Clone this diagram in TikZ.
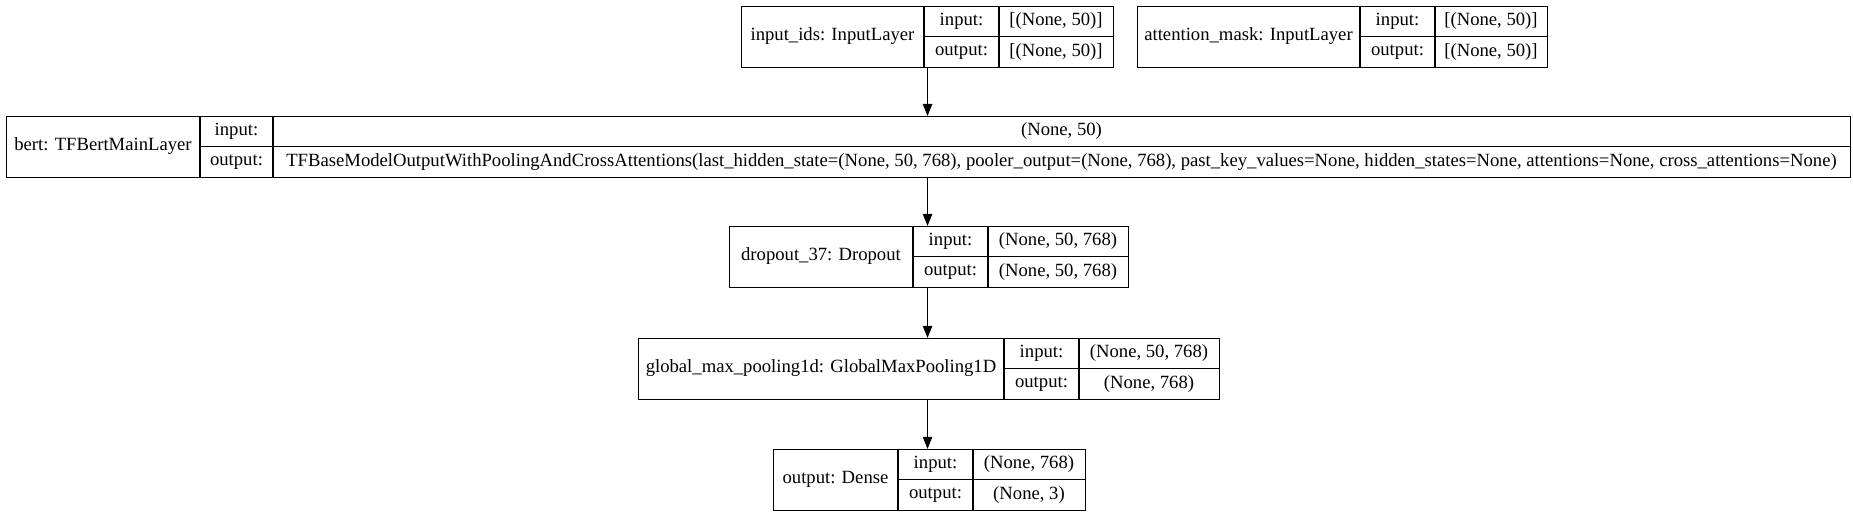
\documentclass[tikz,border=0pt]{standalone}
\usepackage{fontspec}
\setmainfont{Liberation Serif}
\usetikzlibrary{arrows.meta}
\tikzset{
  boxst/.style={draw=black, line width=0.8pt, inner sep=0pt},
  sepst/.style={draw=black, line width=0.8pt},
  txt/.style={inner sep=0pt, font=\fontsize{14}{16}\selectfont},
  edgest/.style={draw=black, line width=0.8pt, -{Triangle[length=9pt,width=7pt]}}
}
% #1 name, #2 left, #3 sep1, #4 sep2, #5 right, #6 top, #7 label, #8 input, #9 output
\newcommand{\layerbox}[9]{%
  \pgfmathsetmacro{\lwid}{(#5-#2)*0.75}%
  \node[boxst, minimum width=\lwid pt, minimum height=45.75pt, anchor=north west] (#1) at (#2,#6) {};
  \draw[sepst] (#3,#6) -- (#3,{#6+61});
  \draw[sepst] (#4,#6) -- (#4,{#6+61});
  \draw[sepst] (#3,{#6+30.5}) -- (#5,{#6+30.5});
  \node[txt] (#1-l) at ({(#2+#3)/2},{#6+30.5}) {#7};
  \node[txt] (#1-ik) at ({(#3+#4)/2},{#6+15.25}) {input:};
  \node[txt] (#1-ok) at ({(#3+#4)/2},{#6+45.75}) {output:};
  \node[txt] (#1-iv) at ({(#4+#5)/2},{#6+15.25}) {#8};
  \node[txt] (#1-ov) at ({(#4+#5)/2},{#6+45.75}) {#9};
}
\begin{document}
\begin{tikzpicture}[x=0.75pt,y=-0.75pt]
\useasboundingbox (0,0) rectangle (1853,516);
\layerbox{inp}{741}{924}{999}{1113}{6}{input\_ids: InputLayer}{[(None, 50)]}{[(None, 50)]}
\layerbox{att}{1137}{1360}{1435}{1547}{6}{attention\_mask: InputLayer}{[(None, 50)]}{[(None, 50)]}
\layerbox{bert}{6}{200}{273}{1850}{116}{bert: TFBertMainLayer}{(None, 50)}{TFBaseModelOutputWithPoolingAndCrossAttentions(last\_hidden\_state=(None, 50, 768), pooler\_output=(None, 768), past\_key\_values=None, hidden\_states=None, attentions=None, cross\_attentions=None)}
\layerbox{drop}{729}{913}{988}{1128}{226}{dropout\_37: Dropout}{(None, 50, 768)}{(None, 50, 768)}
\layerbox{gmp}{638}{1004}{1079}{1219}{338}{global\_max\_pooling1d: GlobalMaxPooling1D}{(None, 50, 768)}{(None, 768)}
\layerbox{out}{773}{898}{973}{1085}{449}{output: Dense}{(None, 768)}{(None, 3)}
\draw[edgest] (inp.south) -- (bert.north -| inp.south);
\draw[edgest] (bert.south -| inp.south) -- (drop.north -| inp.south);
\draw[edgest] (drop.south -| inp.south) -- (gmp.north -| inp.south);
\draw[edgest] (gmp.south -| inp.south) -- (out.north -| inp.south);
\end{tikzpicture}
\end{document}
